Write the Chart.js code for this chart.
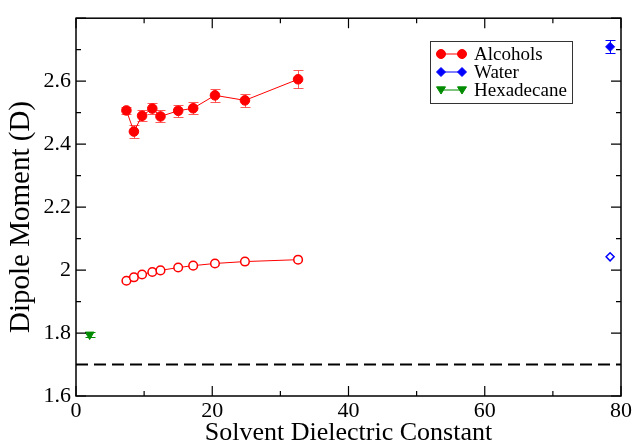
<!DOCTYPE html>
<html>
<head>
<meta charset="utf-8">
<script src="https://cdn.jsdelivr.net/npm/chart.js@4.4.1/dist/chart.umd.min.js"></script>
<style>
  html, body { margin: 0; padding: 0; background: #fff; }
</style>
</head>
<body>
<canvas id="dipole-chart" width="634" height="446"></canvas>
<script>
// values
const alcoholEps = [7.4, 8.5, 9.7, 11.2, 12.4, 15.0, 17.2, 20.4, 24.8, 32.6];
const alcoholDipole = [2.507, 2.440, 2.490, 2.513, 2.488, 2.506, 2.514, 2.555, 2.539, 2.606];
const alcoholErr = [0.010, 0.020, 0.018, 0.018, 0.019, 0.019, 0.019, 0.020, 0.020, 0.029];
const alcoholOpen = [1.966, 1.977, 1.986, 1.994, 1.999, 2.008, 2.014, 2.021, 2.027, 2.033];
const waterEps = [78.4];
const waterDipole = [2.709];
const waterErr = [0.021];
const waterOpen = [2.042];
const hexEps = [2.0];
const hexDipole = [1.795];
const hexErr = [0.008];
const refX = [0, 80];
const refY = [1.7, 1.7];

const xTicks = [0, 20, 40, 60, 80];
const xMinor = [10, 30, 50, 70];
const yTicks = [1.6, 1.8, 2.0, 2.2, 2.4, 2.6, 2.8];
const yLabels = ['1.6', '1.8', '2', '2.2', '2.4', '2.6', ''];
const yMinor = [1.7, 1.9, 2.1, 2.3, 2.5, 2.7];
const legendNames = ['Alcohols', 'Water', 'Hexadecane'];
const yTitle = 'Dipole Moment (D)';

const RED = '#ff0000', BLUE = '#0000ff', GREEN = '#008b00';
const SERIF = "'Liberation Serif', 'Times New Roman', serif";

function pts(xs, ys) {
    return xs.map((x, i) => ({ x: x, y: ys[i] }));
}

function drawMarker(ctx, style, x, y, r, fill, stroke, lw) {
    ctx.beginPath();
    if (style === 'circle') {
        ctx.arc(x, y, r, 0, Math.PI * 2);
    } else if (style === 'diamond') {
        ctx.moveTo(x, y - r); ctx.lineTo(x + r, y); ctx.lineTo(x, y + r); ctx.lineTo(x - r, y);
        ctx.closePath();
    } else {
        ctx.moveTo(x - r, y - r * 0.7); ctx.lineTo(x + r, y - r * 0.7); ctx.lineTo(x, y + r * 0.9);
        ctx.closePath();
    }
    ctx.fillStyle = fill; ctx.fill();
    ctx.lineWidth = lw; ctx.strokeStyle = stroke; ctx.stroke();
}

// error bars under the markers
const errorBars = {
    id: 'errorBars',
    beforeDatasetsDraw(chart) {
        const ctx = chart.ctx, ys = chart.scales.y;
        chart.data.datasets.forEach((ds, i) => {
            if (!ds.errors) return;
            const meta = chart.getDatasetMeta(i);
            ctx.save();
            ctx.strokeStyle = ds.errColor || ds.borderColor;
            ctx.lineWidth = 1;
            meta.data.forEach((el, j) => {
                const v = ds.data[j].y, e = ds.errors[j];
                const t = Math.round(ys.getPixelForValue(v + e)) + 0.5;
                const b = Math.round(ys.getPixelForValue(v - e)) + 0.5;
                const x = Math.round(el.x) + 0.5;
                ctx.beginPath();
                ctx.moveTo(x, t); ctx.lineTo(x, b);
                ctx.moveTo(x - 5, t); ctx.lineTo(x + 5, t);
                ctx.moveTo(x - 5, b); ctx.lineTo(x + 5, b);
                ctx.stroke();
            });
            ctx.restore();
        });
    }
};

// box frame with inward ticks on all four sides, plus the y title
const frame = {
    id: 'frame',
    afterDraw(chart) {
        const ctx = chart.ctx, a = chart.chartArea;
        const xs = chart.scales.x, ys = chart.scales.y;
        ctx.save();
        ctx.strokeStyle = '#000';
        ctx.lineWidth = 1.5;
        ctx.strokeRect(a.left, a.top, a.right - a.left, a.bottom - a.top);
        ctx.lineWidth = 1.2;
        ctx.beginPath();
        const xt = (v, len) => {
            const p = xs.getPixelForValue(v);
            ctx.moveTo(p, a.bottom); ctx.lineTo(p, a.bottom - len);
            ctx.moveTo(p, a.top); ctx.lineTo(p, a.top + len);
        };
        const yt = (v, len) => {
            const p = ys.getPixelForValue(v);
            ctx.moveTo(a.left, p); ctx.lineTo(a.left + len, p);
            ctx.moveTo(a.right, p); ctx.lineTo(a.right - len, p);
        };
        xTicks.forEach(v => xt(v, 10));
        xMinor.forEach(v => xt(v, 5));
        yTicks.forEach(v => yt(v, 10));
        yMinor.forEach(v => yt(v, 5));
        ctx.stroke();

        // y axis title sits a little below the plot centre in the original
        ctx.translate(29, 217);
        ctx.rotate(-Math.PI / 2);
        ctx.font = '29px ' + SERIF;
        ctx.fillStyle = '#000';
        ctx.textAlign = 'center';
        ctx.textBaseline = 'alphabetic';
        ctx.fillText(yTitle, 0, 0);
        ctx.restore();
    }
};

// legend box inside the plot
const legendBox = {
    id: 'legendBox',
    afterDraw(chart) {
        const ctx = chart.ctx;
        const styles = [['circle', RED], ['diamond', BLUE], ['tri', GREEN]];
        ctx.save();
        ctx.strokeStyle = '#333';
        ctx.lineWidth = 1;
        ctx.strokeRect(430.5, 41.5, 142, 62);
        ctx.font = '19px ' + SERIF;
        ctx.textBaseline = 'middle';
        legendNames.forEach((name, i) => {
            const y = 54 + i * 18;
            const [st, col] = styles[i];
            ctx.strokeStyle = col; ctx.lineWidth = 1;
            ctx.beginPath(); ctx.moveTo(441, y); ctx.lineTo(462, y); ctx.stroke();
            drawMarker(ctx, st, 441, y, 4.5, col, col, 1);
            drawMarker(ctx, st, 462, y, 4.5, col, col, 1);
            ctx.fillStyle = '#000';
            ctx.fillText(name, 474, y + 1);
        });
        ctx.restore();
    }
};

const tickFont = { family: SERIF, size: 22 };
const titleFont = { family: SERIF, size: 26 };

const config = {
    type: 'scatter',
    data: {
        datasets: [
            {
                label: 'Alcohols',
                data: pts(alcoholEps, alcoholDipole),
                errors: alcoholErr,
                errColor: 'rgba(255,60,60,0.85)',
                showLine: true,
                borderColor: RED, borderWidth: 1,
                backgroundColor: RED,
                pointStyle: 'circle', pointRadius: 4.8, pointBorderWidth: 1
            },
            {
                label: 'Alcohols (open)',
                data: pts(alcoholEps, alcoholOpen),
                showLine: true,
                borderColor: RED, borderWidth: 1,
                pointBackgroundColor: '#fff', pointBorderColor: RED,
                pointStyle: 'circle', pointRadius: 4.3, pointBorderWidth: 1.5
            },
            {
                label: 'Water',
                data: pts(waterEps, waterDipole),
                errors: waterErr,
                borderColor: BLUE, backgroundColor: BLUE,
                pointStyle: 'rectRot', pointRadius: 4.5, pointBorderWidth: 1
            },
            {
                label: 'Water (open)',
                data: pts(waterEps, waterOpen),
                borderColor: BLUE, backgroundColor: '#fff',
                pointStyle: 'rectRot', pointRadius: 4, pointBorderWidth: 1.5
            },
            {
                label: 'Hexadecane',
                data: pts(hexEps, hexDipole),
                errors: hexErr,
                borderColor: GREEN, backgroundColor: GREEN,
                pointStyle: 'triangle', rotation: 180, pointRadius: 5, pointBorderWidth: 1
            },
            {
                label: 'ref',
                data: pts(refX, refY),
                showLine: true,
                borderColor: '#000', borderWidth: 2, borderDash: [12, 6],
                pointRadius: 0
            }
        ]
    },
    options: {
        responsive: false,
        animation: false,
        devicePixelRatio: 1,
        layout: { padding: { top: 14, right: 13, left: 0, bottom: 0 } },
        plugins: {
            legend: { display: false },
            tooltip: { enabled: false }
        },
        scales: {
            x: {
                type: 'linear', min: 0, max: 80,
                afterBuildTicks: s => { s.ticks = xTicks.map(v => ({ value: v })); },
                afterFit: s => { s.height = 50; },
                grid: { display: false, drawTicks: false },
                border: { display: false },
                ticks: { font: tickFont, color: '#000', padding: 2, maxRotation: 0, autoSkip: false },
                title: { display: true, text: 'Solvent Dielectric Constant', font: titleFont, color: '#000',
                         padding: { top: 0, bottom: -3 } }
            },
            y: {
                type: 'linear', min: 1.6, max: 2.8,
                afterBuildTicks: s => { s.ticks = yTicks.map(v => ({ value: v })); },
                afterFit: s => { s.width = 76; },
                grid: { display: false, drawTicks: false },
                border: { display: false },
                ticks: { font: tickFont, color: '#000', padding: 5, autoSkip: false,
                         callback: (v, i) => yLabels[i] },
                title: { display: false }
            }
        }
    },
    plugins: [errorBars, frame, legendBox]
};

new Chart(document.getElementById('dipole-chart').getContext('2d'), config);
</script>
</body>
</html>
